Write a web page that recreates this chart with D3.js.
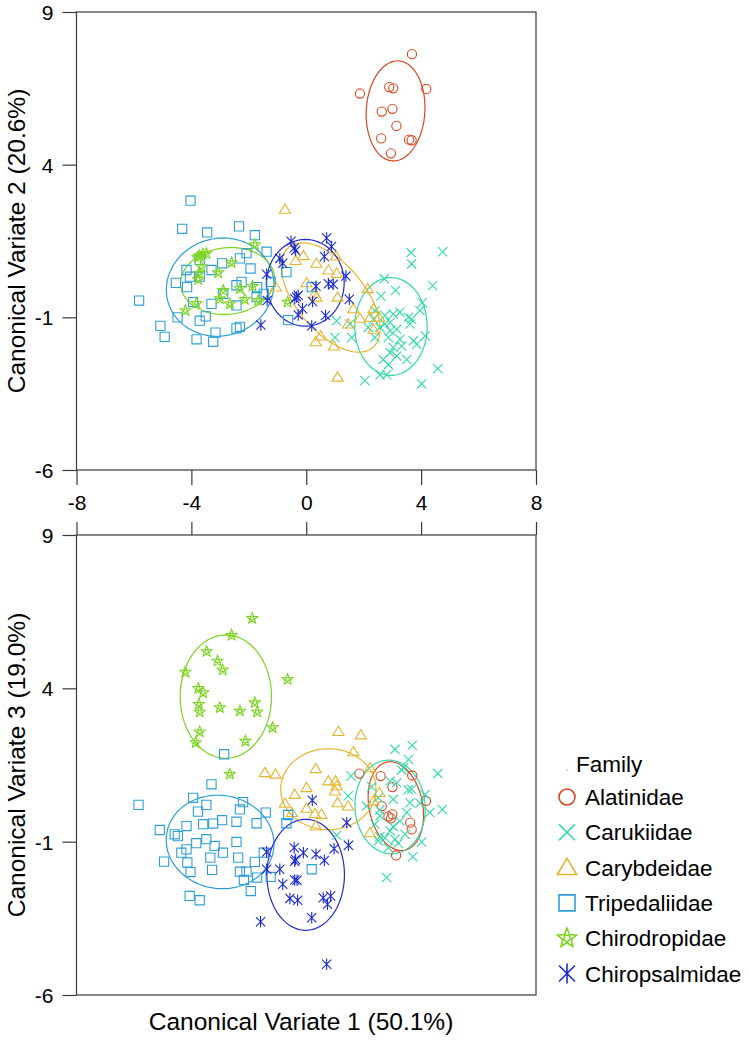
<!DOCTYPE html>
<html><head><meta charset="utf-8">
<script src="https://cdn.jsdelivr.net/npm/d3@7"></script>
<style>body{margin:0;background:#fff}svg{display:block}text{font-family:"Liberation Sans",Arial,sans-serif;fill:#000}</style>
</head><body>
<svg id="c" width="749" height="1041"></svg>
<script>
const families = ["Alatinidae","Carukiidae","Carybdeidae","Tripedaliidae","Chirodropidae","Chiropsalmidae"];
const familyColors = ["#d8461f","#2fd9a8","#e5b42e","#2e9fd6","#7dd321","#1d2acf"];
const familySymbols = ["circle","cross","triangle","square","star","asterisk"];
const xTicks = [-8,-4,0,4,8];
const yTicks = [9,4,-1,-6];
const xTitle = "Canonical Variate 1 (50.1%)";
const yTitleTop = "Canonical Variate 2 (20.6%)";
const yTitleBottom = "Canonical Variate 3 (19.0%)";

// Panel 1: CV1 vs CV2
const alatinidae12 = [[3.68,7.62],[1.87,6.33],[2.89,6.54],[3.03,6.50],[4.18,6.48],[2.63,5.74],[3.00,5.83],[3.14,5.27],[2.61,4.86],[3.58,4.82],[3.67,4.80],[2.95,4.37]];
const carukiidae12 = [[3.65,1.12],[4.75,1.15],[3.67,0.75],[4.40,0.04],[2.72,0.26],[3.11,-0.12],[4.04,-0.52],[2.60,-0.30],[2.39,-0.78],[2.74,-0.94],[3.03,-0.89],[3.26,-0.83],[3.56,-1.00],[3.67,-1.06],[3.61,-1.22],[2.92,-1.17],[2.74,-1.22],[2.57,-1.33],[2.92,-1.44],[3.15,-1.39],[2.39,-1.66],[2.86,-1.66],[3.26,-1.72],[3.73,-1.77],[4.14,-1.61],[3.85,-1.88],[3.03,-1.99],[3.32,-1.94],[2.92,-2.16],[3.15,-2.27],[2.68,-2.38],[2.86,-2.55],[3.50,-2.38],[2.57,-2.88],[2.80,-2.88],[2.04,-3.07],[4.02,-3.18],[4.58,-2.68],[1.06,-1.11],[1.00,-1.66],[1.58,-1.66],[1.52,-1.22],[2.16,-1.33],[3.96,-0.78],[2.34,-1.06]];
const carybdeidae12 = [[-0.74,2.54],[-0.10,1.02],[-0.37,0.86],[0.35,0.77],[1.03,1.01],[0.77,0.55],[1.06,0.44],[0.01,0.13],[-1.06,-0.01],[0.36,-0.34],[1.09,-0.34],[2.14,-0.06],[1.64,-0.72],[2.34,-0.72],[1.87,-1.03],[2.22,-1.00],[2.54,-1.00],[2.34,-1.39],[1.46,-1.22],[0.51,-1.61],[0.33,-1.80],[0.96,-1.94],[1.09,-2.96],[0.30,-0.23]];
const tripedaliidae12 = [[-4.03,2.82],[-4.32,1.90],[-3.45,1.78],[-2.34,1.98],[-1.79,1.69],[-1.38,1.15],[-2.31,0.93],[-2.08,1.10],[-1.94,0.60],[-2.93,0.77],[-3.30,0.55],[-3.71,0.88],[-4.17,0.55],[-4.05,0.33],[-4.54,0.13],[-4.15,-0.01],[-3.71,0.33],[-2.25,0.16],[-2.43,0.05],[-1.71,-0.01],[-1.48,-0.23],[-0.69,0.48],[-1.24,0.16],[-2.89,-0.23],[-3.94,-0.50],[-3.30,-0.56],[-2.43,-0.61],[-1.73,-0.34],[-5.82,-0.45],[-4.48,-1.00],[-3.50,-0.97],[-3.71,-1.11],[-5.08,-1.28],[-4.93,-1.64],[-3.82,-1.72],[-3.16,-1.50],[-3.24,-1.80],[-2.43,-1.36],[-2.31,-1.31],[-0.63,-1.09],[0.19,-0.01]];
const chirodropidae12 = [[-1.79,1.38],[-3.72,1.02],[-3.60,1.07],[-3.48,1.09],[-3.78,0.96],[-3.65,0.66],[-3.73,0.44],[-3.76,0.24],[-3.07,0.46],[-2.60,0.79],[-2.89,-0.12],[-2.31,-0.06],[-1.87,0.02],[-3.01,-0.39],[-2.66,-0.56],[-2.14,-0.41],[-1.67,-0.45],[-3.82,-0.54],[-4.21,-0.78],[-0.65,-0.50]];
const chiropsalmidae12 = [[-0.53,1.49],[-0.42,1.27],[-0.37,1.19],[0.71,1.60],[0.88,1.32],[0.63,0.99],[-0.92,0.93],[-0.82,0.77],[-1.38,0.41],[0.34,0.02],[0.77,0.10],[0.94,0.08],[1.38,0.35],[-0.28,-0.28],[-0.40,-0.39],[-0.34,-0.33],[1.50,-0.41],[0.22,-0.48],[-0.13,-0.72],[-0.28,-0.92],[0.67,-0.94],[0.19,-1.28],[-1.36,-0.45],[-1.58,-1.25]];

// Panel 2: CV1 vs CV3
const alatinidae13 = [[1.85,1.22],[2.59,1.14],[3.69,1.16],[3.00,0.78],[2.63,0.16],[4.17,0.33],[2.86,-0.18],[3.00,-0.11],[2.95,-0.24],[3.62,-0.38],[3.67,-0.60],[3.13,-1.45]];
const carukiidae13 = [[3.09,2.01],[3.69,2.14],[3.56,1.68],[3.38,1.41],[4.58,1.22],[1.56,1.14],[2.92,0.98],[3.15,0.92],[3.67,0.71],[4.14,0.54],[1.46,0.49],[2.51,0.43],[3.03,0.38],[3.61,0.27],[2.10,0.16],[4.30,-0.05],[4.74,0.05],[2.57,-0.16],[3.50,-0.05],[2.39,-0.43],[3.26,-0.33],[2.92,-0.65],[2.74,-0.87],[3.09,-0.92],[3.44,-0.76],[4.02,-1.01],[2.51,-0.98],[2.86,-1.20],[3.71,-1.49],[2.80,-2.17],[1.06,-0.79],[3.96,0.25],[2.56,0.03],[3.03,-0.51],[2.56,-0.84],[3.20,-1.05],[2.28,0.79],[3.32,1.34],[3.55,0.69]];
const carybdeidae13 = [[1.12,2.59],[1.90,2.48],[1.64,1.93],[-1.44,1.25],[-1.07,1.20],[0.33,1.38],[2.22,1.41],[0.77,0.98],[1.02,0.98],[1.06,0.82],[0.01,0.76],[-0.40,0.54],[1.00,0.65],[2.55,0.60],[2.34,0.33],[1.09,0.27],[1.46,0.16],[-0.74,0.25],[0.01,0.09],[0.30,-0.09],[0.53,-0.11],[0.33,-0.49],[2.22,-0.71],[-0.50,-0.05]];
const tripedaliidae13 = [[-2.86,1.85],[-5.84,0.20],[-3.30,0.87],[-3.94,0.43],[-3.48,0.20],[-3.77,-0.02],[-2.20,0.29],[-2.31,0.05],[-1.41,-0.05],[-0.63,-0.13],[-0.69,-0.40],[-1.73,-0.40],[-2.43,-0.35],[-2.93,-0.30],[-3.24,-0.41],[-3.59,-0.43],[-4.17,-0.49],[-5.10,-0.62],[-4.58,-0.76],[-4.47,-0.82],[-3.83,-1.05],[-3.48,-0.92],[-3.19,-1.14],[-2.90,-1.36],[-2.43,-1.01],[-4.35,-1.36],[-4.17,-1.25],[-3.34,-1.52],[-4.95,-1.65],[-4.14,-1.68],[-4.03,-1.99],[-3.28,-1.92],[-2.37,-1.52],[-1.79,-1.66],[-2.31,-1.98],[-2.08,-1.98],[-2.17,-2.25],[-1.71,-2.17],[-1.24,-2.15],[-1.48,-1.36],[0.19,-1.90],[-1.93,-2.61],[-4.06,-2.77],[-3.71,-2.91]];
const chirodropidae13 = [[-1.88,6.28],[-2.60,5.73],[-3.47,5.20],[-3.09,4.89],[-2.91,4.60],[-4.21,4.53],[-0.65,4.29],[-3.76,4.00],[-3.59,3.86],[-3.74,3.48],[-3.71,3.23],[-3.01,3.37],[-2.31,3.26],[-1.79,3.53],[-1.71,3.23],[-1.17,2.72],[-3.71,2.58],[-3.85,2.23],[-2.12,2.28],[-2.66,1.20]];
const chiropsalmidae13 = [[0.21,0.35],[1.41,-0.38],[1.47,-1.12],[0.97,-1.23],[-0.42,-1.20],[-0.10,-1.36],[0.34,-1.41],[0.63,-1.61],[-0.37,-1.58],[-0.40,-1.64],[-1.38,-1.34],[-1.38,-1.90],[-0.92,-1.90],[-0.82,-2.39],[-0.40,-2.25],[-0.32,-2.26],[-0.57,-2.85],[-0.30,-2.91],[0.59,-2.83],[0.85,-2.77],[0.74,-3.04],[0.19,-3.48],[-1.59,-3.61],[0.71,-5.00]];

// Confidence ellipses: [cx, cy, semi-axis x, semi-axis y, rotation deg]
const ellipses12 = [[3.11,5.76,1.02,1.64,-4],[2.95,-1.30,1.26,1.60,0],[0.85,-0.35,2.2,1.15,-47],[-3.0,-0.01,1.88,1.60,10],[-2.74,0.19,1.64,1.09,5],[-0.03,0.13,1.35,1.42,0]];
const ellipses13 = [[3.12,0.16,0.93,1.47,13],[2.92,0.13,1.22,1.53,5],[0.77,0.71,1.66,1.32,0],[-3.0,-1.01,1.88,1.52,-6],[-2.80,3.73,1.59,2.01,0],[-0.02,-2.08,1.35,1.81,0]];

const panel12 = [alatinidae12,carukiidae12,carybdeidae12,tripedaliidae12,chirodropidae12,chiropsalmidae12];
const panel13 = [alatinidae13,carukiidae13,carybdeidae13,tripedaliidae13,chirodropidae13,chiropsalmidae13];

const svg = d3.select("#c");
const x = d3.scaleLinear().domain([-8,8]).range([76.5,536]);
const yA = d3.scaleLinear().domain([-6,9]).range([470,12]);
const yB = d3.scaleLinear().domain([-6,9]).range([995,535]);
const tickFmt = d => String(d);

function symbolPath(type, s){
  const p = d3.path();
  if(type==="circle"){ p.moveTo(s,0); p.arc(0,0,s,0,Math.PI*2); }
  else if(type==="square"){ p.rect(-s,-s,2*s,2*s); }
  else if(type==="triangle"){ const h=s*1.15; p.moveTo(0,-h); p.lineTo(h*1.05,h*0.75); p.lineTo(-h*1.05,h*0.75); p.closePath(); }
  else if(type==="cross"){ p.moveTo(-s,-s); p.lineTo(s,s); p.moveTo(-s,s); p.lineTo(s,-s); }
  else if(type==="asterisk"){ p.moveTo(-s,-s); p.lineTo(s,s); p.moveTo(-s,s); p.lineTo(s,-s); p.moveTo(0,-s*1.25); p.lineTo(0,s*1.25); }
  else if(type==="star"){
    const R=s*1.25, r=R*0.45;
    for(let i=0;i<10;i++){ const a=-Math.PI/2+i*Math.PI/5; const rr=i%2?r:R; const px=rr*Math.cos(a), py=rr*Math.sin(a); i?p.lineTo(px,py):p.moveTo(px,py);} p.closePath();
    const r2=r*0.8; for(let i=0;i<5;i++){ const a=-Math.PI/2+Math.PI/5+i*2*Math.PI/5; const px=r2*Math.cos(a), py=r2*Math.sin(a); i?p.lineTo(px,py):p.moveTo(px,py);} p.closePath();
  }
  return p.toString();
}

function ellipsePts(e){
  const [cx,cy,rx,ry,deg]=e; const th=deg*Math.PI/180;
  return d3.range(0,121).map(i=>{ const t=i/120*2*Math.PI; const ex=rx*Math.cos(t), ey=ry*Math.sin(t);
    return [cx+ex*Math.cos(th)-ey*Math.sin(th), cy+ex*Math.sin(th)+ey*Math.cos(th)]; });
}

function drawPanel(data, ells, y, top){
  const g = svg.append("g");
  g.append("rect").attr("x",x.range()[0]).attr("y",y.range()[1]).attr("width",x.range()[1]-x.range()[0]).attr("height",y.range()[0]-y.range()[1]).attr("fill","none").attr("stroke","#3a3a3a").attr("stroke-width",1.2);
  const ya = g.append("g").attr("transform",`translate(${x.range()[0]},0)`).call(d3.axisLeft(y).tickValues(yTicks).tickSize(14).tickPadding(9).tickFormat(tickFmt));
  ya.select(".domain").remove();
  ya.selectAll("line").attr("stroke","#3a3a3a").attr("stroke-width",1.2);
  ya.selectAll("text").attr("font-size",21).attr("font-family",'"Liberation Sans",Arial,sans-serif').attr("dy","0.36em");
  if(top){
    const xa = g.append("g").attr("transform",`translate(0,${y.range()[0]})`).call(d3.axisBottom(x).tickValues(xTicks).tickSize(15).tickPadding(10).tickFormat(tickFmt));
    xa.select(".domain").remove();
    xa.selectAll("line").attr("stroke","#3a3a3a").attr("stroke-width",1.2);
    xa.selectAll("text").attr("font-size",21).attr("font-family",'"Liberation Sans",Arial,sans-serif');
  } else {
    const xa = g.append("g").attr("transform",`translate(0,${y.range()[1]})`).call(d3.axisTop(x).tickValues(xTicks).tickSize(13).tickFormat(""));
    xa.select(".domain").remove();
    xa.selectAll("line").attr("stroke","#3a3a3a").attr("stroke-width",1.2);
  }
  const line = d3.line().x(d=>x(d[0])).y(d=>y(d[1]));
  ells.forEach((e,i)=>{
    g.append("path").attr("d",line(ellipsePts(e))).attr("fill","none").attr("stroke",familyColors[i]).attr("stroke-width",1.2);
  });
  data.forEach((pts,i)=>{
    g.append("g").selectAll("path").data(pts).join("path")
      .attr("transform",d=>`translate(${x(d[0])},${y(d[1])})`)
      .attr("d",symbolPath(familySymbols[i],4.6))
      .attr("fill","none").attr("stroke",familyColors[i]).attr("stroke-width",1.1);
  });
}

drawPanel(panel12, ellipses12, yA, true);
drawPanel(panel13, ellipses13, yB, false);

svg.append("text").attr("x",301).attr("y",1030).attr("text-anchor","middle").attr("font-size",24.5).text(xTitle);
svg.append("text").attr("transform",`translate(25,241) rotate(-90)`).attr("text-anchor","middle").attr("font-size",24.5).text(yTitleTop);
svg.append("text").attr("transform",`translate(25,765) rotate(-90)`).attr("text-anchor","middle").attr("font-size",24.5).text(yTitleBottom);

const lg = svg.append("g");
lg.append("circle").attr("cx",567).attr("cy",770).attr("r",0.8).attr("fill","#999");
lg.append("text").attr("x",576).attr("y",772).attr("font-size",22.5).text("Family");
families.forEach((f,i)=>{
  const cy = 797 + i*35.3;
  lg.append("path").attr("transform",`translate(567,${cy})`).attr("d",symbolPath(familySymbols[i],8)).attr("fill","none").attr("stroke",familyColors[i]).attr("stroke-width",1.6);
  lg.append("text").attr("x",585).attr("y",cy+8).attr("font-size",22.5).text(f);
});
</script>
</body></html>
